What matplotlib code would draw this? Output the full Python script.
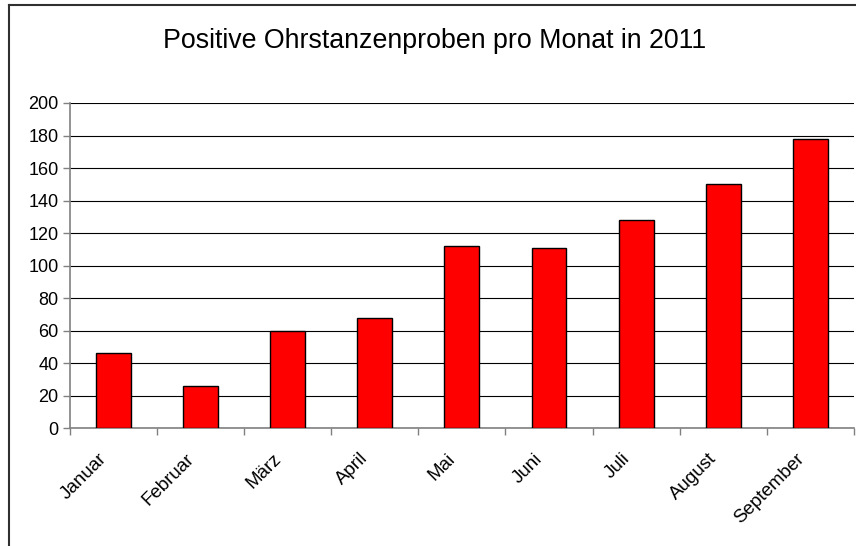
import matplotlib
matplotlib.use("Agg")
import matplotlib.pyplot as plt
from matplotlib.lines import Line2D
from matplotlib.transforms import ScaledTranslation
import numpy as np

plt.rcParams['font.family'] = ['Liberation Sans', 'DejaVu Sans']

# data
months = ['Januar', 'Februar', 'März', 'April', 'Mai', 'Juni', 'Juli', 'August', 'September']
positives = [46, 26, 60, 68, 112, 111, 128, 150, 178]
title = 'Positive Ohrstanzenproben pro Monat in 2011'

fig = plt.figure(figsize=(8.56, 5.46), dpi=100)
ax = fig.add_axes([0.0812, 0.2156, 0.9165, 0.5958])

x = np.arange(len(months))
ax.bar(x, positives, width=0.4, color='#ff0000', edgecolor='black', linewidth=1.0, zorder=3)

ax.set_xlim(-0.5, len(months) - 0.5)
ax.set_ylim(0, 200)
ax.set_yticks(range(0, 201, 20))
ax.yaxis.grid(True, color='black', linewidth=0.8, zorder=0)
ax.set_axisbelow(True)

# month labels centred on bars, tick marks on category boundaries
ax.set_xticks(x)
ax.set_xticklabels(months, rotation=45, ha='right', va='center', rotation_mode='anchor')
ax.set_xticks(np.arange(-0.5, len(months)), minor=True)
ax.tick_params(axis='x', which='major', length=0, pad=20, labelsize=13.5)
ax.tick_params(axis='x', which='minor', length=5, color='#808080', width=1)
ax.tick_params(axis='y', length=5, color='#808080', width=1, labelsize=13, pad=3)

# nudge month labels a bit to the left, like the original
shift = ScaledTranslation(-9 / 100, 0, fig.dpi_scale_trans)
for lbl in ax.get_xticklabels():
    lbl.set_transform(lbl.get_transform() + shift)

for side in ['top', 'right']:
    ax.spines[side].set_visible(False)
for side in ['left', 'bottom']:
    ax.spines[side].set_color('#808080')
    ax.spines[side].set_linewidth(1.2)

fig.text(0.508, 0.925, title, ha='center', va='center', fontsize=19.3)

# chart frame (cut off on the right and bottom)
fig.add_artist(Line2D([9 / 856, 9 / 856], [0, 1 - 5 / 546], color='#303030', linewidth=1.5))
fig.add_artist(Line2D([9 / 856, 1], [1 - 5 / 546, 1 - 5 / 546], color='#303030', linewidth=1.5))

fig.savefig('out.png', dpi=100)
